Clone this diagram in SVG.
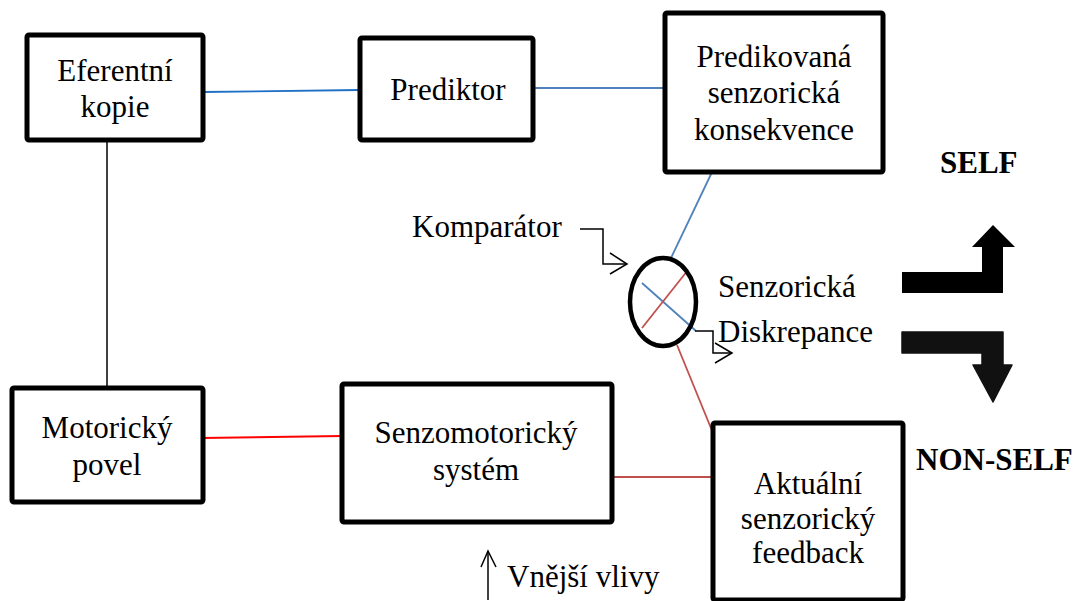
<svg xmlns="http://www.w3.org/2000/svg" width="1081" height="601" viewBox="0 0 1081 601">
<style>
.box{fill:#fff;stroke:#000;stroke-width:5}
.t{font-family:"Liberation Serif","Times New Roman",serif;font-size:31px;fill:#000}
.c{text-anchor:middle}
.b{font-weight:bold}
.thin{fill:none;stroke:#000;stroke-width:1.5}
.blue{stroke:#4f81bd;stroke-width:1.8;fill:none}
.blue2{stroke:#1f6fc5;stroke-width:1.8;fill:none}
.red{stroke:#c0504d;stroke-width:1.8;fill:none}
.red2{stroke:#ff0000;stroke-width:1.8;fill:none}
</style>
<rect width="1081" height="601" fill="#fff"/>
<g id="connectors">
<line class="blue2" x1="203" y1="92" x2="360" y2="90"/>
<line class="blue" x1="533" y1="88" x2="665" y2="88"/>
<line class="blue" x1="713" y1="170" x2="671" y2="258"/>
<line class="thin" x1="107" y1="140" x2="107" y2="388"/>
<line class="red2" x1="202" y1="438" x2="342" y2="436"/>
<line class="red" x1="612" y1="477" x2="713" y2="477"/>
<line class="blue" x1="642" y1="283" x2="696" y2="331"/>
<line class="red" x1="688" y1="270" x2="642" y2="328"/>
<line class="red" x1="677" y1="345" x2="715" y2="438"/>
</g>
<g id="eferentni">
<rect class="box" x="27" y="35" width="176" height="105" rx="2"/>
<text class="t c" x="115" y="81">Eferentní</text>
<text class="t c" x="115" y="117">kopie</text>
</g>
<g id="prediktor">
<rect class="box" x="360" y="38" width="173" height="102" rx="2"/>
<text class="t c" x="448" y="100">Prediktor</text>
</g>
<g id="predikovana">
<rect class="box" x="665" y="13" width="218" height="159" rx="2"/>
<text class="t c" x="774" y="67">Predikovaná</text>
<text class="t c" x="774" y="103">senzorická</text>
<text class="t c" x="774" y="140">konsekvence</text>
</g>
<g id="motoricky">
<rect class="box" x="12" y="388" width="191" height="114" rx="2"/>
<text class="t c" x="107" y="438">Motorický</text>
<text class="t c" x="107" y="475">povel</text>
</g>
<g id="senzomotoricky">
<rect class="box" x="342" y="384" width="270" height="138" rx="2"/>
<text class="t c" x="476" y="443">Senzomotorický</text>
<text class="t c" x="476" y="480">systém</text>
</g>
<g id="aktualni">
<rect class="box" x="713" y="423" width="190" height="177" rx="2"/>
<text class="t c" x="808" y="494">Aktuální</text>
<text class="t c" x="808" y="529">senzorický</text>
<text class="t c" x="808" y="563">feedback</text>
</g>
<g id="komparator">
<ellipse cx="663" cy="302" rx="33" ry="44" fill="none" stroke="#000" stroke-width="4.5"/>
<text class="t" x="412" y="237">Komparátor</text>
<polyline class="thin" points="580,229 603,229 603,264 627,264"/>
<polyline class="thin" points="610,253 627,264 610,274"/>
</g>
<g id="diskrepance">
<text class="t" x="718" y="297">Senzorická</text>
<text class="t" x="718" y="342">Diskrepance</text>
<polyline class="thin" points="695,331 713,331 713,353 732,353"/>
<polyline class="thin" points="715,343 732,353 715,363"/>
</g>
<g id="self">
<text class="t b" x="940" y="173">SELF</text>
<polygon points="902,272 982,272 982,247 972,247 993,225 1015,247 1003,247 1003,293 902,293" fill="#000"/>
</g>
<g id="nonself">
<text class="t b" x="916" y="470">NON-SELF</text>
<polygon points="902,332 1003,332 1003,365 1012,365 993,402 973,365 982,365 982,353 902,353" fill="#111" stroke="#111" stroke-width="1.5" stroke-linejoin="round"/>
</g>
<g id="vnejsi">
<line class="thin" x1="488" y1="600" x2="488" y2="551"/>
<polyline class="thin" points="481,567 488,551 496,567"/>
<text class="t" x="507" y="587">Vnější vlivy</text>
</g>
</svg>
